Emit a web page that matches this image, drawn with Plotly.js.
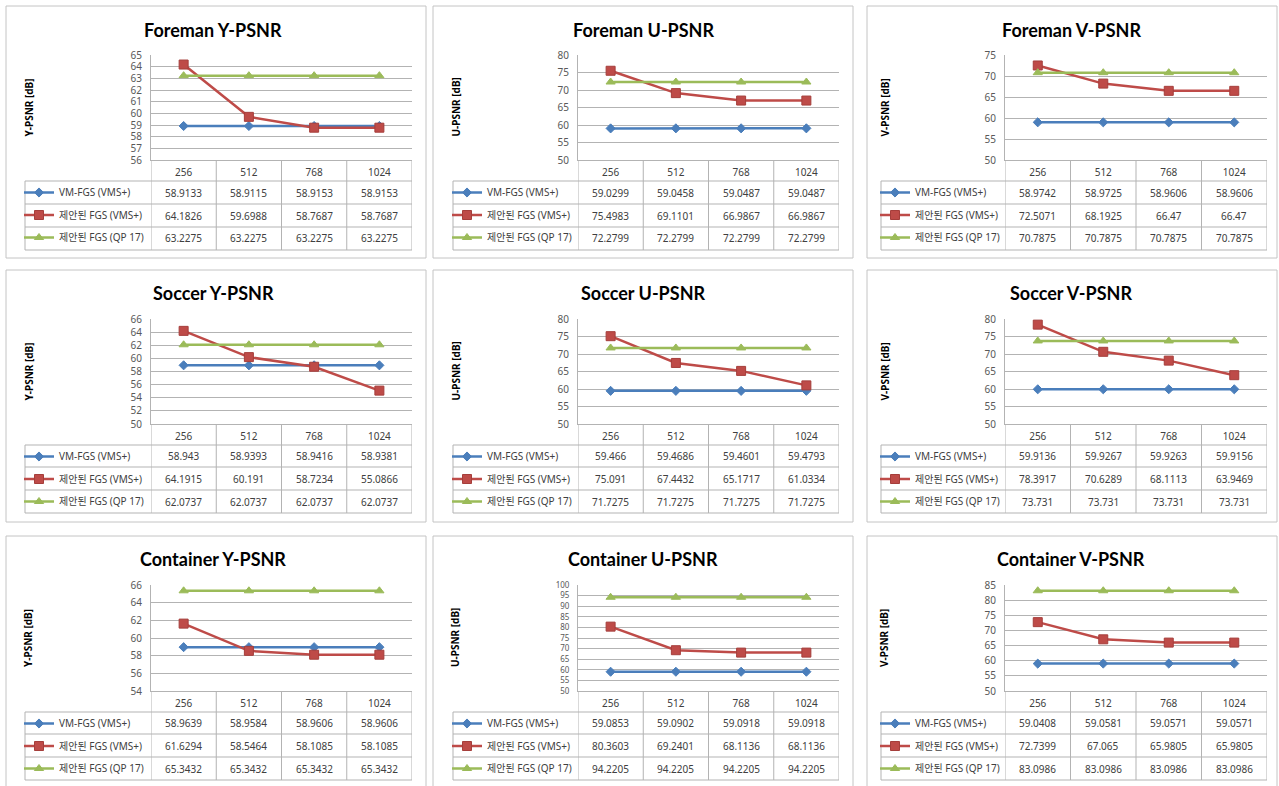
<!DOCTYPE html>
<html>
<head>
<meta charset="utf-8">
<script src="https://cdn.plot.ly/plotly-3.0.1.min.js"></script>
<style>html,body{margin:0;padding:0;background:#fff;}#chart{width:1279px;height:786px;}</style>
</head>
<body>
<div id="chart"></div>
<script>
// ---------- DATA ----------
const categories = ['256', '512', '768', '1024'];
const seriesNames = ['VM-FGS (VMS+)', '제안된 FGS (VMS+)', '제안된 FGS (QP 17)'];
const panelTitles = ['Foreman Y-PSNR', 'Foreman U-PSNR', 'Foreman V-PSNR',
                     'Soccer Y-PSNR', 'Soccer U-PSNR', 'Soccer V-PSNR',
                     'Container Y-PSNR', 'Container U-PSNR', 'Container V-PSNR'];
const yTitles = ['Y-PSNR [dB]', 'U-PSNR [dB]', 'V-PSNR [dB]',
                 'Y-PSNR [dB]', 'U-PSNR [dB]', 'V-PSNR [dB]',
                 'Y-PSNR [dB]', 'U-PSNR [dB]', 'V-PSNR [dB]'];
const yMin  = [56, 50, 50, 50, 50, 50, 54, 50, 50];
const yMax  = [65, 80, 75, 66, 80, 80, 66, 100, 85];
const yStep = [1, 5, 5, 2, 5, 5, 2, 5, 5];

const foremanY_vm  = [58.9133, 58.9115, 58.9153, 58.9153];
const foremanY_fgs = [64.1826, 59.6988, 58.7687, 58.7687];
const foremanY_qp  = [63.2275, 63.2275, 63.2275, 63.2275];
const foremanU_vm  = [59.0299, 59.0458, 59.0487, 59.0487];
const foremanU_fgs = [75.4983, 69.1101, 66.9867, 66.9867];
const foremanU_qp  = [72.2799, 72.2799, 72.2799, 72.2799];
const foremanV_vm  = [58.9742, 58.9725, 58.9606, 58.9606];
const foremanV_fgs = [72.5071, 68.1925, 66.47, 66.47];
const foremanV_qp  = [70.7875, 70.7875, 70.7875, 70.7875];
const soccerY_vm   = [58.943, 58.9393, 58.9416, 58.9381];
const soccerY_fgs  = [64.1915, 60.191, 58.7234, 55.0866];
const soccerY_qp   = [62.0737, 62.0737, 62.0737, 62.0737];
const soccerU_vm   = [59.466, 59.4686, 59.4601, 59.4793];
const soccerU_fgs  = [75.091, 67.4432, 65.1717, 61.0334];
const soccerU_qp   = [71.7275, 71.7275, 71.7275, 71.7275];
const soccerV_vm   = [59.9136, 59.9267, 59.9263, 59.9156];
const soccerV_fgs  = [78.3917, 70.6289, 68.1113, 63.9469];
const soccerV_qp   = [73.731, 73.731, 73.731, 73.731];
const containerY_vm  = [58.9639, 58.9584, 58.9606, 58.9606];
const containerY_fgs = [61.6294, 58.5464, 58.1085, 58.1085];
const containerY_qp  = [65.3432, 65.3432, 65.3432, 65.3432];
const containerU_vm  = [59.0853, 59.0902, 59.0918, 59.0918];
const containerU_fgs = [80.3603, 69.2401, 68.1136, 68.1136];
const containerU_qp  = [94.2205, 94.2205, 94.2205, 94.2205];
const containerV_vm  = [59.0408, 59.0581, 59.0571, 59.0571];
const containerV_fgs = [72.7399, 67.065, 65.9805, 65.9805];
const containerV_qp  = [83.0986, 83.0986, 83.0986, 83.0986];

const panelSeries = [
  [foremanY_vm, foremanY_fgs, foremanY_qp],
  [foremanU_vm, foremanU_fgs, foremanU_qp],
  [foremanV_vm, foremanV_fgs, foremanV_qp],
  [soccerY_vm, soccerY_fgs, soccerY_qp],
  [soccerU_vm, soccerU_fgs, soccerU_qp],
  [soccerV_vm, soccerV_fgs, soccerV_qp],
  [containerY_vm, containerY_fgs, containerY_qp],
  [containerU_vm, containerU_fgs, containerU_qp],
  [containerV_vm, containerV_fgs, containerV_qp]
];

// ---------- STYLE / LAYOUT GEOMETRY (pixels) ----------
const W = 1279, H = 786;
const px = x => x / W;
const py = y => 1 - y / H;

const colBorder = [[6, 426], [433, 853], [867, 1277]];
const colPlot   = [[151, 412], [578, 839], [1005, 1267]];
const colTableL = [25, 453, 881];
const colTitleX = [213, 643, 1071];
const colYTitleX = [28, 455, 884];

const rowBorder = [[6, 258], [270, 522], [536, 800]];
const rowPlot   = [[55, 160], [319, 424], [585, 691]];
const rowTable  = [[160, 181, 204, 227, 250], [424, 445, 467, 490, 513], [691, 712, 734, 757, 780]];
const rowTitleY = [30, 293, 559];

const seriesColor = ['#4A7EBB', '#BE4B48', '#9BBB59'];
const seriesSymbol = ['diamond', 'square', 'triangle-up'];
const seriesSize = [7, 9, 8];
const gridColor = '#B3B3B3';
const tableColor = '#B3B3B3';
const borderColor = '#C4C4C4';
const numFont = 'Noto Sans, Noto Sans CJK KR, sans-serif';

const traces = [];
const layout = {
  width: W, height: H,
  margin: {l: 0, r: 0, t: 0, b: 0},
  paper_bgcolor: '#FFFFFF',
  plot_bgcolor: 'rgba(0,0,0,0)',
  showlegend: true,
  annotations: [],
  shapes: [],
  font: {family: numFont, size: 10, color: '#404040'}
};

for (let k = 0; k < 9; k++) {
  const r = Math.floor(k / 3), c = k % 3;
  const sfx = k === 0 ? '' : String(k + 1);
  const xa = 'x' + sfx, ya = 'y' + sfx;
  const legName = 'legend' + sfx;
  const [pl, pr] = colPlot[c];
  const [pt, pb] = rowPlot[r];
  const rows = rowTable[r];
  const tl = colTableL[c];
  const nTicks = (yMax[k] - yMin[k]) / yStep[k];
  const yTickSize = nTicks > 9 ? 8 : 10;

  // panel border
  layout.shapes.push({type: 'rect', xref: 'paper', yref: 'paper',
    x0: px(colBorder[c][0]), x1: px(colBorder[c][1]),
    y0: py(rowBorder[r][0]), y1: py(rowBorder[r][1]),
    line: {color: borderColor, width: 1}, layer: 'below'});

  layout['xaxis' + sfx] = {
    domain: [px(pl), px(pr)], anchor: ya,
    type: 'category', categoryorder: 'array', categoryarray: categories,
    range: [-0.5, 3.5], showgrid: false, zeroline: false,
    showline: true, linecolor: tableColor, linewidth: 1,
    ticks: 'outside', ticklen: 3, tickcolor: 'rgba(0,0,0,0)',
    tickfont: {family: numFont, size: 10, color: '#404040'},
    fixedrange: true
  };
  layout['yaxis' + sfx] = {
    domain: [py(pb), py(pt)], anchor: xa,
    range: [yMin[k], yMax[k]], dtick: yStep[k], tick0: yMin[k],
    showgrid: true, gridcolor: gridColor, gridwidth: 1, zeroline: false,
    showline: true, linecolor: tableColor, linewidth: 1,
    ticks: 'outside', ticklen: 6, tickcolor: 'rgba(0,0,0,0)',
    tickfont: {family: numFont, size: yTickSize, color: '#595959'},
    fixedrange: true
  };

  // series
  for (let s = 0; s < 3; s++) {
    traces.push({
      type: 'scatter', mode: 'lines+markers',
      x: categories, y: panelSeries[k][s],
      xaxis: xa, yaxis: ya,
      name: seriesNames[s],
      legend: legName, legendgroup: 'p' + k + 's' + s,
      line: {color: seriesColor[s], width: 2.5},
      marker: {symbol: seriesSymbol[s], size: seriesSize[s], color: seriesColor[s],
               line: {color: s === 1 ? '#A53E3B' : seriesColor[s], width: 1}},
      cliponaxis: false,
      hoverinfo: 'x+y+name'
    });
  }

  // legend inside the table's first column
  layout[legName] = {
    x: px(tl - 6), y: py(rows[1] - 3), xref: 'paper', yref: 'paper',
    xanchor: 'left', yanchor: 'top', orientation: 'v',
    traceorder: 'grouped', tracegroupgap: 3.5,
    bgcolor: 'rgba(0,0,0,0)', borderwidth: 0,
    font: {family: numFont, size: 10, color: '#404040'},
    itemclick: false, itemdoubleclick: false
  };

  // table lines
  for (let i = 1; i <= 4; i++) {
    layout.shapes.push({type: 'line', xref: 'paper', yref: 'paper',
      x0: px(tl), x1: px(pr), y0: py(rows[i]), y1: py(rows[i]),
      line: {color: tableColor, width: 1}});
  }
  layout.shapes.push({type: 'line', xref: 'paper', yref: 'paper',
    x0: px(tl), x1: px(tl), y0: py(rows[1]), y1: py(rows[4]),
    line: {color: tableColor, width: 1}});
  for (let i = 0; i <= 4; i++) {
    layout.shapes.push({type: 'line', xref: xa, yref: 'paper',
      x0: i - 0.5, x1: i - 0.5, y0: py(rows[0]), y1: py(rows[4]),
      line: {color: tableColor, width: 1}});
  }

  // table values (x = category index on the category axis)
  for (let s = 0; s < 3; s++) {
    const yc = (rows[s + 1] + rows[s + 2]) / 2;
    panelSeries[k][s].forEach((v, ci) => {
      layout.annotations.push({xref: xa, yref: 'paper', x: ci, y: py(yc),
        text: String(v), showarrow: false, xanchor: 'center', yanchor: 'middle',
        font: {family: numFont, size: 10, color: '#404040'}});
    });
  }

  // panel title
  layout.annotations.push({xref: 'paper', yref: 'paper',
    x: px(colTitleX[c]), y: py(rowTitleY[r]), xanchor: 'center', yanchor: 'middle',
    text: '<b>' + panelTitles[k] + '</b>', showarrow: false,
    font: {family: 'Lato, Open Sans, sans-serif', size: 18, color: '#000000'}});

  // y axis title
  layout.annotations.push({xref: 'paper', yref: 'paper',
    x: px(colYTitleX[c]), y: py((pt + pb) / 2), xanchor: 'center', yanchor: 'middle',
    text: '<b>' + yTitles[k] + '</b>', showarrow: false, textangle: -90,
    font: {family: 'Noto Sans, sans-serif', size: 10, color: '#000000'}});
}

Plotly.newPlot('chart', traces, layout, {staticPlot: false, displayModeBar: false, responsive: false});
</script>
</body>
</html>
